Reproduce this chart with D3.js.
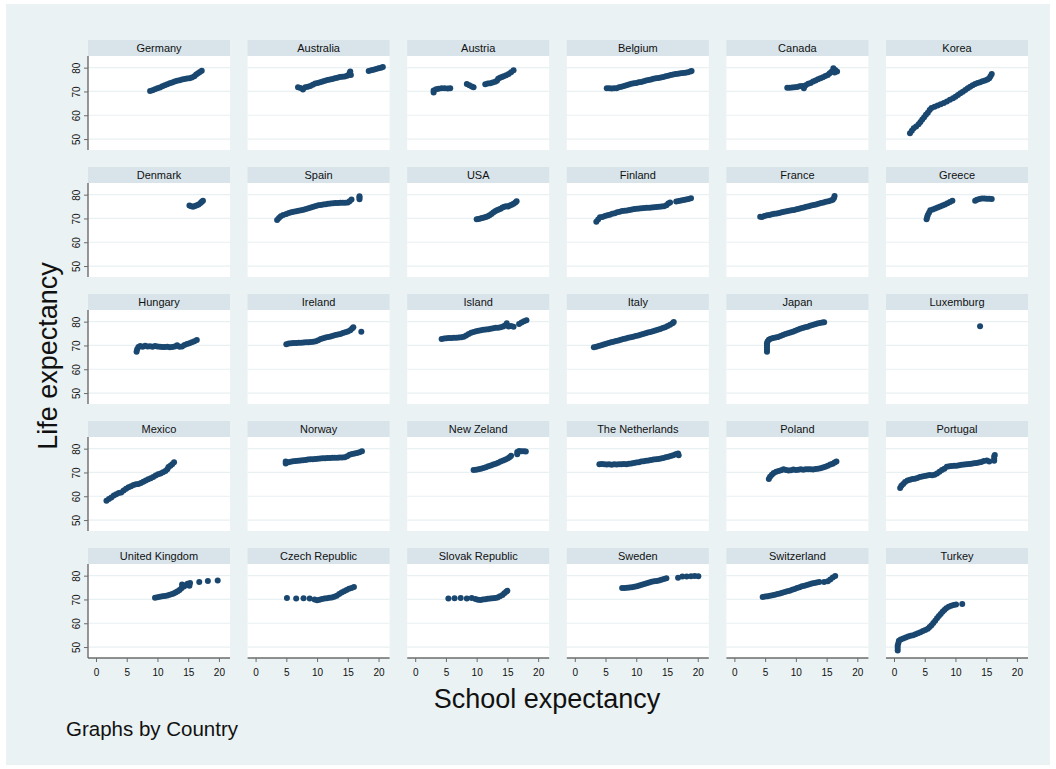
<!DOCTYPE html>
<html>
<head>
<meta charset="utf-8">
<script src="https://cdn.jsdelivr.net/npm/d3@7"></script>
<style>
  body { margin: 0; background: #ffffff; }
  svg { display: block; }
  text { font-family: "Liberation Sans", Arial, Helvetica, sans-serif; }
</style>
</head>
<body>
<svg id="chart" width="1056" height="769"></svg>
<script>
// ---- Data: [school expectancy (years), life expectancy (years)] per country ----
const germany = [[8.8,70.2],[9.2,70.5],[9.6,70.9],[10.0,71.3],[10.4,71.7],[10.8,72.2],[11.2,72.6],[11.6,73.0],[12.0,73.4],[12.4,73.8],[12.8,74.2],[13.2,74.5],[13.6,74.7],[14.0,75.0],[14.4,75.2],[14.8,75.4],[15.2,75.6],[15.6,75.9],[16.0,76.4],[16.3,77.1],[16.6,77.7],[16.9,78.2],[17.2,78.7]];
const australia = [[6.9,71.8],[7.3,71.5],[7.7,70.8],[8.1,71.8],[8.5,72.0],[8.9,72.3],[9.3,72.8],[9.7,73.3],[10.1,73.6],[10.5,73.9],[10.9,74.2],[11.3,74.5],[11.7,74.8],[12.1,75.0],[12.5,75.2],[12.9,75.5],[13.3,75.8],[13.7,76.1],[14.1,76.2],[14.5,76.3],[14.9,76.6],[15.2,77.0],[15.3,77.8],[15.4,78.4],[15.5,76.9],[18.4,78.6],[18.8,78.9],[19.2,79.1],[19.6,79.4],[20.0,79.7],[20.4,80.0],[20.7,80.3]];
const austria = [[3.0,69.6],[3.0,70.4],[3.4,70.9],[3.8,71.1],[4.3,71.3],[4.8,71.3],[5.3,71.2],[5.7,71.3],[8.4,73.1],[8.8,72.6],[9.2,72.1],[9.5,71.8],[11.4,73.0],[11.8,73.3],[12.2,73.5],[12.6,73.8],[13.0,74.1],[13.3,74.5],[13.5,75.3],[13.8,75.8],[14.1,76.1],[14.4,76.4],[14.8,76.8],[15.2,77.3],[15.6,78.1],[16.0,78.9]];
const belgium = [[5.2,71.3],[5.6,71.3],[6.0,71.2],[6.4,71.3],[6.8,71.4],[7.2,71.8],[7.6,72.0],[8.0,72.3],[8.4,72.6],[8.8,72.9],[9.2,73.2],[9.6,73.4],[10.0,73.6],[10.4,73.9],[10.8,74.0],[11.2,74.3],[11.6,74.6],[12.0,74.8],[12.4,75.0],[12.8,75.3],[13.2,75.5],[13.6,75.7],[14.0,75.9],[14.4,76.1],[14.8,76.4],[15.2,76.6],[15.6,76.9],[16.0,77.1],[16.4,77.3],[16.8,77.4],[17.2,77.6],[17.6,77.8],[18.0,77.9],[18.4,78.1],[18.8,78.4],[19.0,78.6]];
const canada = [[8.6,71.6],[9.0,71.6],[9.4,71.7],[9.8,71.8],[10.2,71.9],[10.6,72.2],[11.0,72.3],[11.3,71.4],[11.6,72.6],[12.0,73.2],[12.4,73.6],[12.8,74.2],[13.2,74.6],[13.6,75.1],[14.0,75.5],[14.4,76.0],[14.8,76.5],[15.2,76.9],[15.5,77.6],[15.8,78.3],[16.1,79.7],[16.4,79.0],[16.7,78.4],[16.3,78.0]];
const korea = [[2.6,52.4],[2.9,53.5],[3.2,54.5],[3.6,55.3],[4.0,56.2],[4.3,57.2],[4.6,58.2],[4.9,59.2],[5.2,60.2],[5.5,61.1],[5.8,62.2],[6.1,63.0],[6.6,63.6],[7.1,64.1],[7.6,64.6],[8.1,65.2],[8.6,65.8],[9.1,66.5],[9.6,67.1],[10.0,67.8],[10.4,68.5],[10.8,69.2],[11.2,69.9],[11.6,70.6],[12.0,71.3],[12.4,72.0],[12.8,72.6],[13.2,73.1],[13.6,73.6],[14.0,73.9],[14.4,74.3],[14.8,74.6],[15.2,75.0],[15.5,75.6],[15.7,76.4],[15.9,77.3]];
const denmark = [[15.2,75.4],[15.5,75.1],[15.8,74.9],[16.1,75.2],[16.4,75.5],[16.7,75.9],[17.0,76.5],[17.2,77.0],[17.4,77.4]];
const spain = [[3.5,69.4],[3.8,70.2],[4.1,70.9],[4.5,71.5],[5.0,71.9],[5.4,72.3],[5.8,72.6],[6.2,72.8],[6.6,73.0],[7.0,73.2],[7.4,73.4],[7.8,73.7],[8.2,74.0],[8.6,74.3],[9.0,74.6],[9.4,74.9],[9.8,75.2],[10.2,75.5],[10.6,75.7],[11.0,75.9],[11.4,76.0],[11.8,76.2],[12.2,76.3],[12.6,76.4],[13.0,76.5],[13.4,76.5],[13.8,76.6],[14.2,76.6],[14.6,76.6],[15.0,76.7],[15.3,77.2],[15.6,78.0],[16.9,78.1],[16.9,78.8],[16.9,79.3]];
const usa = [[10.0,69.7],[10.3,69.8],[10.6,70.0],[10.9,70.2],[11.2,70.4],[11.5,70.6],[11.8,70.9],[12.1,71.4],[12.4,71.9],[12.7,72.5],[13.0,73.0],[13.3,73.5],[13.6,73.8],[13.9,74.1],[14.2,74.6],[14.5,74.9],[14.8,75.1],[15.1,75.0],[15.4,75.4],[15.7,75.8],[16.0,76.2],[16.3,76.7],[16.5,77.2]];
const finland = [[3.5,68.6],[3.8,69.6],[4.1,70.5],[4.5,70.6],[4.9,71.0],[5.3,71.3],[5.7,71.6],[6.1,72.0],[6.5,72.2],[6.9,72.6],[7.3,72.8],[7.7,73.1],[8.1,73.2],[8.5,73.3],[8.9,73.6],[9.3,73.8],[9.7,74.0],[10.1,74.1],[10.5,74.2],[10.9,74.3],[11.3,74.4],[11.7,74.5],[12.1,74.5],[12.5,74.6],[12.9,74.7],[13.3,74.8],[13.7,74.9],[14.1,75.0],[14.5,75.1],[14.9,75.5],[15.2,76.3],[15.5,76.7],[16.5,77.1],[16.9,77.3],[17.3,77.5],[17.7,77.8],[18.1,78.0],[18.5,78.2],[18.9,78.5]];
const france = [[4.2,70.7],[4.5,70.6],[4.9,71.0],[5.3,71.3],[5.7,71.5],[6.1,71.8],[6.5,72.0],[6.9,72.1],[7.3,72.3],[7.7,72.6],[8.1,72.8],[8.5,73.0],[8.9,73.2],[9.3,73.4],[9.7,73.6],[10.1,73.9],[10.5,74.1],[10.9,74.4],[11.3,74.6],[11.7,74.9],[12.1,75.1],[12.5,75.4],[12.9,75.7],[13.3,75.9],[13.7,76.2],[14.1,76.5],[14.5,76.7],[14.9,77.0],[15.3,77.2],[15.7,77.5],[16.0,77.9],[16.2,78.6],[16.3,79.4]];
const greece = [[5.3,69.7],[5.4,70.6],[5.5,71.5],[5.7,72.4],[5.9,73.4],[6.3,73.8],[6.7,74.2],[7.1,74.6],[7.5,75.0],[7.9,75.4],[8.3,75.9],[8.7,76.4],[9.1,76.9],[9.5,77.4],[13.2,77.4],[13.5,77.9],[13.9,78.2],[14.3,78.4],[14.7,78.4],[15.1,78.3],[15.5,78.3],[15.9,78.2]];
const hungary = [[6.6,67.4],[6.7,68.4],[6.9,69.4],[7.2,69.8],[7.6,69.5],[8.0,69.9],[8.4,69.6],[8.8,69.7],[9.2,69.5],[9.6,69.8],[10.0,69.6],[10.4,69.5],[10.8,69.4],[11.2,69.3],[11.6,69.5],[12.0,69.2],[12.4,69.3],[12.8,69.6],[13.2,70.1],[13.6,69.5],[14.0,69.6],[14.4,70.2],[14.8,70.6],[15.2,70.9],[15.6,71.3],[16.0,71.8],[16.4,72.3]];
const ireland = [[5.0,70.5],[5.4,70.8],[5.8,70.9],[6.2,71.0],[6.6,71.0],[7.0,71.1],[7.4,71.1],[7.8,71.2],[8.2,71.3],[8.6,71.4],[9.0,71.5],[9.4,71.6],[9.8,71.8],[10.2,72.2],[10.6,72.7],[11.0,73.0],[11.4,73.3],[11.8,73.6],[12.2,73.8],[12.6,74.1],[13.0,74.4],[13.4,74.6],[13.8,74.8],[14.2,75.2],[14.6,75.5],[15.0,75.9],[15.4,76.4],[15.7,77.1],[15.9,77.7],[17.2,75.8]];
const island = [[4.3,72.7],[4.7,72.9],[5.1,73.0],[5.5,73.1],[5.9,73.1],[6.3,73.2],[6.7,73.2],[7.1,73.3],[7.5,73.4],[7.9,73.7],[8.3,74.2],[8.7,74.8],[9.1,75.3],[9.5,75.7],[9.9,76.0],[10.3,76.2],[10.7,76.4],[11.1,76.6],[11.5,76.7],[11.9,76.8],[12.3,77.0],[12.7,77.2],[13.1,77.4],[13.5,77.4],[13.9,77.7],[14.3,78.0],[14.6,78.4],[14.9,79.3],[15.2,78.0],[15.6,78.2],[16.0,77.9],[16.9,79.0],[17.3,79.6],[17.7,80.2],[18.1,80.6]];
const italy = [[3.1,69.2],[3.5,69.5],[3.9,69.8],[4.3,70.1],[4.7,70.4],[5.1,70.7],[5.5,71.0],[5.9,71.3],[6.3,71.6],[6.7,71.9],[7.1,72.1],[7.5,72.4],[7.9,72.7],[8.3,72.9],[8.7,73.2],[9.1,73.5],[9.5,73.7],[9.9,74.0],[10.3,74.2],[10.7,74.5],[11.1,74.8],[11.5,75.1],[11.9,75.4],[12.3,75.7],[12.7,76.0],[13.1,76.3],[13.5,76.6],[13.9,76.9],[14.3,77.3],[14.7,77.7],[15.1,78.2],[15.5,78.7],[15.9,79.3],[16.1,79.9]];
const japan = [[5.3,67.4],[5.3,68.3],[5.3,69.2],[5.3,70.1],[5.3,70.9],[5.4,71.7],[5.6,72.4],[5.9,72.8],[6.3,73.1],[6.7,73.3],[7.1,73.6],[7.5,74.0],[7.9,74.4],[8.3,74.8],[8.7,75.1],[9.1,75.4],[9.5,75.8],[9.9,76.2],[10.3,76.6],[10.7,77.0],[11.1,77.3],[11.5,77.6],[11.9,77.9],[12.3,78.3],[12.7,78.6],[13.1,78.9],[13.5,79.2],[13.9,79.4],[14.3,79.6],[14.6,79.7]];
const luxemburg = [[14.0,78.1]];
const mexico = [[1.7,58.1],[2.1,58.8],[2.5,59.5],[2.9,60.3],[3.3,60.8],[3.7,61.4],[4.1,61.6],[4.5,62.4],[4.9,63.2],[5.3,63.8],[5.7,64.2],[6.1,64.7],[6.5,65.0],[6.9,65.2],[7.3,65.6],[7.7,66.1],[8.1,66.6],[8.5,67.1],[8.9,67.6],[9.3,68.1],[9.7,68.7],[10.1,69.2],[10.5,69.6],[10.9,70.1],[11.3,70.6],[11.6,71.3],[11.8,72.3],[12.1,72.8],[12.4,73.5],[12.7,74.3]];
const norway = [[4.9,73.8],[4.9,74.6],[5.3,74.3],[5.7,74.5],[6.1,74.7],[6.5,74.8],[6.9,74.9],[7.3,75.0],[7.7,75.1],[8.1,75.2],[8.5,75.4],[8.9,75.5],[9.3,75.6],[9.7,75.7],[10.1,75.8],[10.5,75.9],[10.9,76.0],[11.3,76.0],[11.7,76.1],[12.1,76.1],[12.5,76.2],[12.9,76.2],[13.3,76.2],[13.7,76.3],[14.1,76.3],[14.5,76.4],[14.9,76.8],[15.3,77.4],[15.7,77.8],[16.1,78.0],[16.5,78.2],[16.9,78.5],[17.3,78.9]];
const newZeland = [[9.5,71.0],[9.9,71.1],[10.3,71.3],[10.7,71.6],[11.1,71.9],[11.5,72.2],[11.9,72.6],[12.3,72.9],[12.7,73.3],[13.1,73.7],[13.5,74.1],[13.9,74.6],[14.3,75.0],[14.7,75.4],[15.1,76.0],[15.4,76.5],[15.6,77.0],[16.6,77.7],[16.6,78.6],[16.9,79.0],[17.3,78.9],[17.7,78.9],[18.0,78.8]];
const netherlands = [[4.0,73.4],[4.4,73.6],[4.8,73.5],[5.2,73.3],[5.6,73.4],[6.0,73.2],[6.4,73.5],[6.8,73.3],[7.2,73.5],[7.6,73.4],[8.0,73.6],[8.4,73.5],[8.8,73.7],[9.2,73.8],[9.6,74.0],[10.0,74.2],[10.4,74.3],[10.8,74.6],[11.2,74.7],[11.6,74.9],[12.0,75.0],[12.4,75.2],[12.8,75.4],[13.2,75.5],[13.6,75.7],[14.0,75.9],[14.4,76.1],[14.8,76.4],[15.2,76.6],[15.6,76.9],[16.0,77.2],[16.4,77.6],[16.8,78.0],[16.9,77.2]];
const poland = [[5.6,67.2],[5.8,68.2],[6.1,69.0],[6.4,69.8],[6.8,70.3],[7.2,70.6],[7.6,70.9],[8.0,71.3],[8.4,71.0],[8.8,70.8],[9.2,70.9],[9.6,71.2],[10.0,71.0],[10.4,71.1],[10.8,71.3],[11.2,71.1],[11.6,71.3],[12.0,71.3],[12.4,71.4],[12.8,71.2],[13.2,71.5],[13.6,71.6],[14.0,71.8],[14.4,72.1],[14.8,72.4],[15.2,72.8],[15.6,73.3],[16.0,73.7],[16.3,74.2],[16.6,74.6]];
const portugal = [[1.0,63.5],[1.2,64.4],[1.5,65.2],[1.8,66.0],[2.2,66.6],[2.6,66.9],[3.0,67.2],[3.4,67.4],[3.8,67.7],[4.2,68.1],[4.6,68.3],[5.0,68.5],[5.4,68.7],[5.8,68.9],[6.2,68.8],[6.6,69.0],[7.0,69.6],[7.4,70.3],[7.8,71.0],[8.2,71.6],[8.6,72.4],[9.0,72.6],[9.4,72.7],[9.8,72.8],[10.2,72.8],[10.6,73.0],[11.0,73.2],[11.4,73.3],[11.8,73.5],[12.2,73.6],[12.6,73.7],[13.0,73.9],[13.4,74.0],[13.8,74.2],[14.2,74.4],[14.6,74.8],[15.1,75.0],[15.5,74.6],[16.3,74.9],[16.3,75.8],[16.3,76.7],[16.4,77.3]];
const unitedKingdom = [[9.6,70.7],[10.0,70.9],[10.4,71.1],[10.8,71.3],[11.2,71.5],[11.6,71.7],[12.0,72.0],[12.4,72.3],[12.7,72.6],[13.0,73.0],[13.3,73.4],[13.6,74.0],[13.9,74.7],[14.0,76.3],[14.3,75.4],[14.6,76.0],[14.9,76.6],[15.2,75.8],[15.3,76.9],[16.8,77.3],[18.2,77.8],[19.8,78.0]];
const czechRepublic = [[5.1,70.6],[6.6,70.4],[7.8,70.5],[8.8,70.4],[9.6,70.0],[10.0,69.7],[10.4,69.9],[10.8,70.2],[11.2,70.4],[11.6,70.5],[12.0,70.7],[12.4,70.8],[12.8,71.1],[13.2,71.6],[13.6,72.3],[14.0,72.9],[14.4,73.4],[14.8,74.0],[15.2,74.5],[15.6,74.8],[16.0,75.2]];
const slovakRepublic = [[5.4,70.4],[6.4,70.5],[7.4,70.6],[8.4,70.4],[9.2,70.6],[9.8,70.2],[10.2,69.9],[10.6,69.8],[11.0,70.0],[11.4,70.1],[11.8,70.3],[12.2,70.4],[12.6,70.5],[13.0,70.6],[13.4,70.8],[13.8,71.3],[14.2,71.9],[14.5,72.6],[14.8,73.2],[15.0,73.7]];
const sweden = [[7.7,74.8],[8.1,74.8],[8.5,74.9],[8.9,75.0],[9.3,75.1],[9.7,75.3],[10.1,75.6],[10.5,75.9],[10.9,76.2],[11.3,76.5],[11.7,76.8],[12.1,77.1],[12.5,77.4],[12.9,77.6],[13.3,77.8],[13.7,78.0],[14.1,78.3],[14.5,78.6],[14.9,78.9],[16.8,79.1],[17.5,79.6],[18.2,79.6],[18.9,79.8],[19.5,79.9],[20.1,79.8]];
const switzerland = [[4.6,71.0],[5.0,71.2],[5.4,71.4],[5.8,71.6],[6.2,71.8],[6.6,72.0],[7.0,72.3],[7.4,72.5],[7.8,72.8],[8.2,73.1],[8.6,73.4],[9.0,73.7],[9.4,74.1],[9.8,74.4],[10.2,74.8],[10.6,75.1],[11.0,75.5],[11.4,75.8],[11.8,76.1],[12.2,76.4],[12.6,76.7],[13.0,76.9],[13.4,77.1],[13.8,77.3],[14.6,77.3],[15.2,77.7],[15.6,78.4],[16.0,79.2],[16.4,79.9]];
const turkey = [[0.6,48.6],[0.6,49.6],[0.6,50.6],[0.7,51.6],[0.8,52.6],[1.1,53.2],[1.5,53.6],[1.9,54.0],[2.3,54.4],[2.7,54.7],[3.1,55.0],[3.5,55.4],[3.9,55.8],[4.3,56.2],[4.7,56.7],[5.1,57.2],[5.5,57.7],[5.8,58.4],[6.1,59.2],[6.4,60.1],[6.7,61.1],[7.0,62.1],[7.3,63.0],[7.6,63.9],[7.9,64.8],[8.2,65.6],[8.5,66.3],[8.9,66.9],[9.3,67.4],[9.7,67.7],[10.1,67.9],[11.1,68.1]];

const countryNames = ["Germany","Australia","Austria","Belgium","Canada","Korea",
  "Denmark","Spain","USA","Finland","France","Greece",
  "Hungary","Ireland","Island","Italy","Japan","Luxemburg",
  "Mexico","Norway","New Zeland","The Netherlands","Poland","Portugal",
  "United Kingdom","Czech Republic","Slovak Republic","Sweden","Switzerland","Turkey"];
const countrySeries = [germany, australia, austria, belgium, canada, korea,
  denmark, spain, usa, finland, france, greece,
  hungary, ireland, island, italy, japan, luxemburg,
  mexico, norway, newZeland, netherlands, poland, portugal,
  unitedKingdom, czechRepublic, slovakRepublic, sweden, switzerland, turkey];

const yTicks = [50, 60, 70, 80];
const xTicks = [0, 5, 10, 15, 20];
const yTitle = "Life expectancy";
const xTitle = "School expectancy";
const note = "Graphs by Country";

// ---- Layout ----
const W = 1056, H = 769;
const nCols = 6, nRows = 5;
const gridLeft = 88, colPitch = 159.6, panelW = 142;
const gridTop = 40, rowPitch = 127, stripH = 16, plotH = 94;

const colors = {
  region: "#eaf2f3",
  strip: "#d8e4ea",
  plot: "#ffffff",
  grid: "#e9f0f2",
  axis: "#6b6b6b",
  marker: "#1a476f",
  text: "#111111"
};

const svg = d3.select("#chart");

svg.append("rect")
  .attr("x", 6).attr("y", 4)
  .attr("width", W - 12).attr("height", H - 8)
  .attr("fill", colors.region);

const x = d3.scaleLinear().domain([-1.3, 21.8]).range([0, panelW]);
const y = d3.scaleLinear().domain([45.4, 84.9]).range([plotH, 0]);

countrySeries.forEach((pts, i) => {
  const col = i % nCols, row = Math.floor(i / nCols);
  const px = gridLeft + col * colPitch;
  const py = gridTop + row * rowPitch;
  const g = svg.append("g").attr("transform", `translate(${px},${py})`);

  // title strip
  g.append("rect")
    .attr("width", panelW).attr("height", stripH)
    .attr("fill", colors.strip);
  g.append("text")
    .attr("x", panelW / 2).attr("y", 12)
    .attr("text-anchor", "middle")
    .attr("font-size", 11)
    .attr("fill", colors.text)
    .text(countryNames[i]);

  const p = g.append("g").attr("transform", `translate(0,${stripH})`);
  p.append("rect")
    .attr("width", panelW).attr("height", plotH)
    .attr("fill", colors.plot);

  // horizontal grid lines
  p.selectAll("line.grid").data(yTicks).join("line")
    .attr("class", "grid")
    .attr("x1", 0).attr("x2", panelW)
    .attr("y1", d => y(d)).attr("y2", d => y(d))
    .attr("stroke", colors.grid).attr("stroke-width", 1.2);

  // y axis on the first column
  if (col === 0) {
    const ya = p.append("g")
      .call(d3.axisLeft(y).tickValues(yTicks).tickSize(4).tickSizeOuter(0));
    ya.select(".domain").attr("stroke", colors.axis).attr("stroke-width", 1.4)
      .attr("d", `M0,0V${plotH}`);
    ya.selectAll(".tick line").attr("stroke", colors.axis).attr("stroke-width", 1);
    ya.selectAll(".tick text")
      .attr("x", 0).attr("dy", null).attr("y", 0)
      .attr("text-anchor", "middle")
      .attr("transform", "translate(-8,0) rotate(-90)")
      .attr("font-size", 10)
      .attr("font-family", "Liberation Sans, Arial, sans-serif")
      .attr("fill", colors.text);
  }

  // x axis on the bottom row
  if (row === nRows - 1) {
    const xa = p.append("g")
      .attr("transform", `translate(0,${plotH})`)
      .call(d3.axisBottom(x).tickValues(xTicks).tickSize(4).tickSizeOuter(0));
    xa.select(".domain").attr("stroke", colors.axis).attr("stroke-width", 1.4)
      .attr("d", `M0,0H${panelW}`);
    xa.selectAll(".tick line").attr("stroke", colors.axis).attr("stroke-width", 1);
    xa.selectAll(".tick text")
      .attr("y", 11)
      .attr("font-size", 10)
      .attr("font-family", "Liberation Sans, Arial, sans-serif")
      .attr("fill", colors.text);
  }

  // markers
  p.selectAll("circle").data(pts).join("circle")
    .attr("cx", d => x(d[0]))
    .attr("cy", d => y(d[1]))
    .attr("r", 3)
    .attr("fill", colors.marker);
});

// axis titles and note
svg.append("text")
  .attr("transform", "translate(57,356) rotate(-90)")
  .attr("text-anchor", "middle")
  .attr("font-size", 27)
  .attr("fill", colors.text)
  .text(yTitle);

svg.append("text")
  .attr("x", 547).attr("y", 708)
  .attr("text-anchor", "middle")
  .attr("font-size", 27)
  .attr("fill", colors.text)
  .text(xTitle);

svg.append("text")
  .attr("x", 66).attr("y", 736)
  .attr("font-size", 20.5)
  .attr("fill", colors.text)
  .text(note);
</script>
</body>
</html>
